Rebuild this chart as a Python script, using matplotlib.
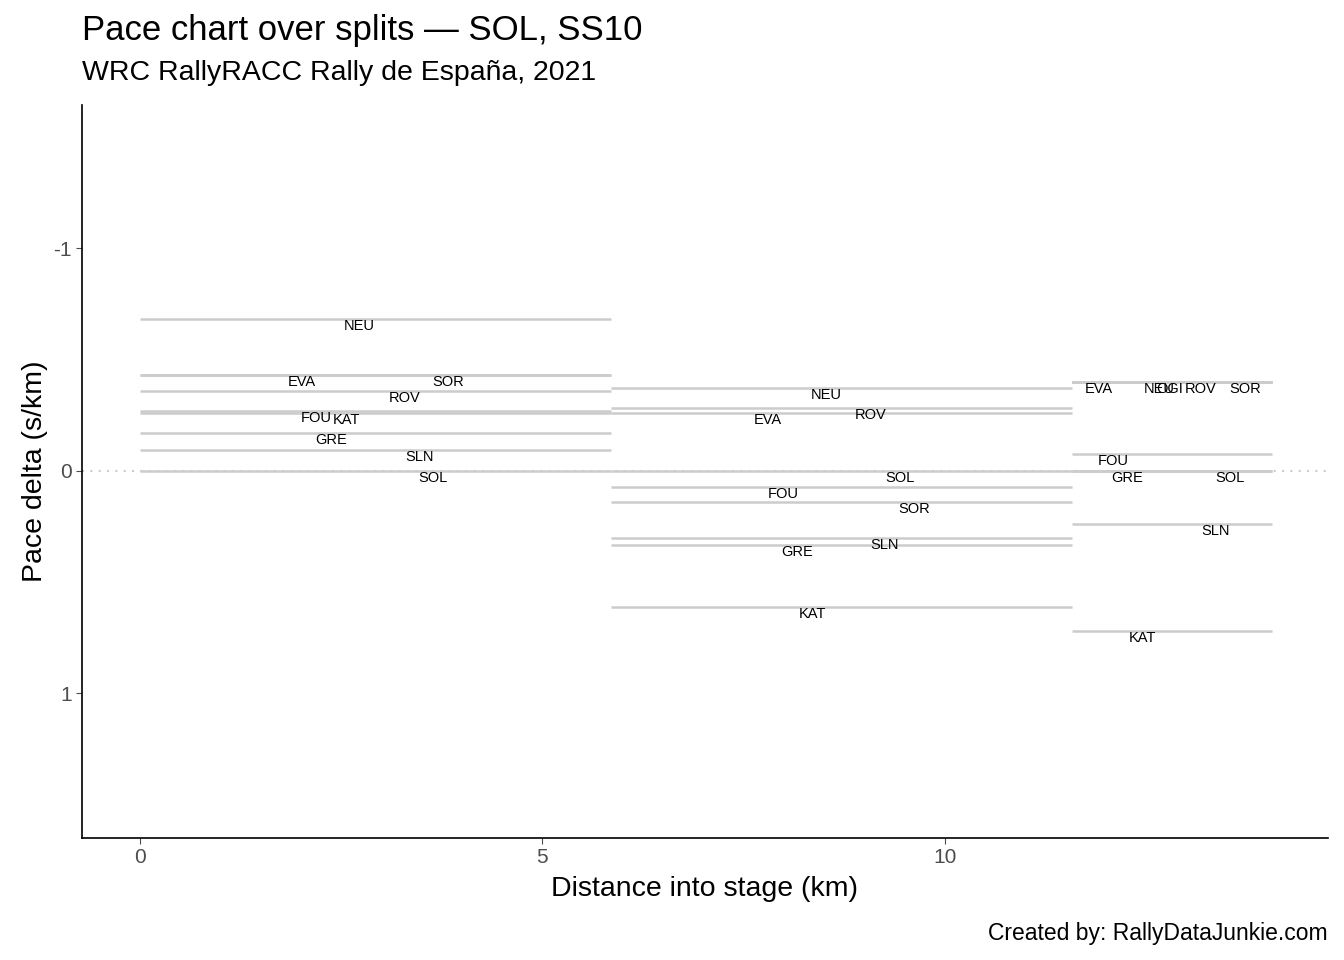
import matplotlib.pyplot as plt

plt.rcParams['font.family'] = ['Liberation Sans', 'DejaVu Sans']

# split segments (km)
seg_start = [0.0, 5.85, 11.58]
seg_end = [5.85, 11.58, 14.06]

# per segment: codes, pace delta (s/km), label x (km)
seg_codes = [
    ['NEU', 'EVA', 'SOR', 'ROV', 'FOU', 'KAT', 'GRE', 'SLN', 'SOL'],
    ['NEU', 'EVA', 'ROV', 'SOL', 'FOU', 'SOR', 'GRE', 'SLN', 'KAT'],
    ['EVA', 'NEU', 'OGI', 'ROV', 'SOR', 'FOU', 'GRE', 'SOL', 'SLN', 'KAT'],
]
seg_delta = [
    [-0.68, -0.43, -0.43, -0.36, -0.27, -0.26, -0.17, -0.094, 0.0],
    [-0.37, -0.26, -0.283, 0.0, 0.072, 0.139, 0.333, 0.30, 0.611],
    [-0.40, -0.40, -0.40, -0.40, -0.40, -0.076, 0.0, 0.0, 0.238, 0.719],
]
seg_label_x = [
    [2.73, 2.01, 3.83, 3.29, 2.19, 2.56, 2.37, 3.47, 3.64],
    [8.53, 7.80, 9.08, 9.44, 7.99, 9.62, 8.16, 9.25, 8.35],
    [11.91, 12.67, 12.80, 13.18, 13.73, 12.09, 12.27, 13.54, 13.37, 12.45],
]

fig = plt.figure(figsize=(13.44, 9.6), dpi=100)
ax = fig.add_axes([0.061, 0.127, 0.927, 0.764])

ax.axhline(0, color='#cccccc', linestyle=(0, (1, 3)), lw=1.5, zorder=0)

for s0, s1, codes, deltas, lxs in zip(seg_start, seg_end, seg_codes, seg_delta, seg_label_x):
    for code, d, lx in zip(codes, deltas, lxs):
        ax.hlines(d, s0, s1, color='#cccccc', lw=1.8)
        ax.annotate(code, (lx, d), xytext=(0, -5), textcoords='offset points',
                    ha='center', va='center', fontsize=10.5)

ax.set_xlim(-0.72, 14.76)
ax.set_ylim(1.65, -1.645)
ax.set_xticks([0, 5, 10])
ax.set_yticks([-1, 0, 1])
ax.set_yticklabels(['-1', '0', '1'])
ax.tick_params(labelsize=15, colors='#4d4d4d', length=4)
for sp in ['top', 'right']:
    ax.spines[sp].set_visible(False)
ax.spines['left'].set_linewidth(1.2)
ax.spines['bottom'].set_linewidth(1.2)
ax.set_xlabel('Distance into stage (km)', fontsize=20.5, labelpad=6)
ax.set_ylabel('Pace delta (s/km)', fontsize=20.5)

fig.text(0.061, 0.968, 'Pace chart over splits — SOL, SS10', fontsize=25, va='center')
fig.text(0.061, 0.924, 'WRC RallyRACC Rally de España, 2021', fontsize=20.5, va='center')
fig.text(0.988, 0.028, 'Created by: RallyDataJunkie.com', fontsize=16.5, ha='right', va='center')

fig.savefig('out.png', dpi=100)
